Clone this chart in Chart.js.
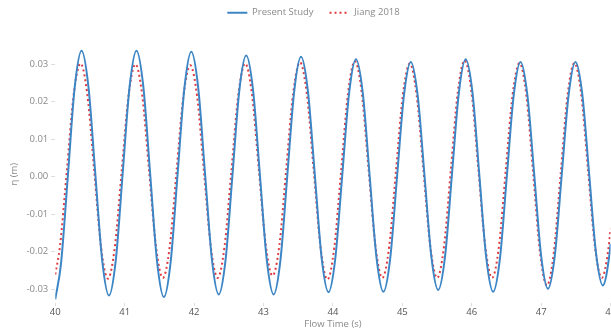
<!DOCTYPE html>
<html>
<head>
<meta charset="utf-8">
<script src="https://cdn.jsdelivr.net/npm/chart.js@4"></script>
<style>
  html, body { margin: 0; padding: 0; background: #fff; overflow: hidden; }
  #wrap { width: 618px; height: 329px; }
</style>
</head>
<body>
<div id="wrap"><canvas id="waveChart"></canvas></div>
<script>
// Free surface elevation
const seriesNames = ['Present Study', 'Jiang 2018'];

const presentTime = [
  40.000, 40.083, 40.182, 40.280, 40.379,
  40.478, 40.576, 40.675, 40.774,
  40.873, 40.972, 41.071, 41.170,
  41.269, 41.367, 41.466, 41.565,
  41.664, 41.762, 41.861, 41.960,
  42.059, 42.157, 42.256, 42.355,
  42.454, 42.553, 42.652, 42.751,
  42.850, 42.948, 43.047, 43.146,
  43.245, 43.343, 43.442, 43.541,
  43.640, 43.739, 43.837, 43.936,
  44.035, 44.134, 44.233, 44.332,
  44.431, 44.529, 44.628, 44.727,
  44.826, 44.924, 45.023, 45.122,
  45.221, 45.320, 45.418, 45.517,
  45.616, 45.715, 45.814, 45.913,
  46.012, 46.110, 46.209, 46.308,
  46.407, 46.505, 46.604, 46.703,
  46.802, 46.901, 46.999, 47.098,
  47.197, 47.296, 47.395, 47.494,
  47.593, 47.691, 47.790, 47.889,
  47.988, 48.000
];
const presentEta = [
  -0.0327, -0.0232, 0.0003, 0.0238, 0.0336,
  0.0240, 0.0010, -0.0221, -0.0317,
  -0.0221, 0.0010, 0.0240, 0.0336,
  0.0240, 0.0008, -0.0225, -0.0321,
  -0.0225, 0.0006, 0.0237, 0.0333,
  0.0238, 0.0010, -0.0219, -0.0314,
  -0.0221, 0.0005, 0.0230, 0.0323,
  0.0230, 0.0005, -0.0221, -0.0314,
  -0.0221, 0.0003, 0.0227, 0.0320,
  0.0228, 0.0006, -0.0216, -0.0308,
  -0.0217, 0.0003, 0.0222, 0.0313,
  0.0222, 0.0003, -0.0216, -0.0307,
  -0.0217, 0.0000, 0.0216, 0.0306,
  0.0217, 0.0002, -0.0213, -0.0302,
  -0.0212, 0.0006, 0.0223, 0.0313,
  0.0222, 0.0003, -0.0216, -0.0307,
  -0.0217, 0.0000, 0.0216, 0.0306,
  0.0217, 0.0004, -0.0210, -0.0299,
  -0.0210, 0.0004, 0.0217, 0.0306,
  0.0219, 0.0008, -0.0203, -0.0290,
  -0.0202, -0.0179
];

const jiangTime = [
  40.000, 40.068, 40.167, 40.265, 40.364,
  40.463, 40.562, 40.660, 40.759,
  40.858, 40.957, 41.056, 41.155,
  41.254, 41.352, 41.451, 41.550,
  41.649, 41.747, 41.846, 41.945,
  42.044, 42.142, 42.241, 42.340,
  42.439, 42.538, 42.637, 42.736,
  42.835, 42.933, 43.032, 43.131,
  43.230, 43.328, 43.427, 43.526,
  43.625, 43.724, 43.822, 43.921,
  44.020, 44.119, 44.218, 44.317,
  44.416, 44.514, 44.613, 44.712,
  44.811, 44.909, 45.008, 45.107,
  45.206, 45.305, 45.403, 45.502,
  45.601, 45.700, 45.799, 45.898,
  45.997, 46.095, 46.194, 46.293,
  46.392, 46.490, 46.589, 46.688,
  46.787, 46.886, 46.984, 47.083,
  47.182, 47.281, 47.380, 47.479,
  47.578, 47.676, 47.775, 47.874,
  47.973, 48.000
];
const jiangEta = [
  -0.0261, -0.0186, 0.0016, 0.0218, 0.0302,
  0.0218, 0.0015, -0.0188, -0.0272,
  -0.0188, 0.0014, 0.0216, 0.0300,
  0.0216, 0.0015, -0.0186, -0.0270,
  -0.0187, 0.0014, 0.0214, 0.0297,
  0.0214, 0.0014, -0.0187, -0.0270,
  -0.0186, 0.0016, 0.0218, 0.0302,
  0.0219, 0.0019, -0.0181, -0.0264,
  -0.0181, 0.0021, 0.0222, 0.0305,
  0.0220, 0.0016, -0.0189, -0.0274,
  -0.0189, 0.0017, 0.0223, 0.0308,
  0.0223, 0.0019, -0.0185, -0.0270,
  -0.0186, 0.0016, 0.0218, 0.0302,
  0.0218, 0.0016, -0.0186, -0.0270,
  -0.0185, 0.0020, 0.0225, 0.0310,
  0.0225, 0.0020, -0.0185, -0.0270,
  -0.0186, 0.0017, 0.0219, 0.0303,
  0.0217, 0.0007, -0.0203, -0.0290,
  -0.0203, 0.0007, 0.0217, 0.0303,
  0.0219, 0.0017, -0.0186, -0.0270,
  -0.0187, -0.0139
];

const xTicks = [40, 41, 42, 43, 44, 45, 46, 47, 48];
const yTicks = [-0.03, -0.02, -0.01, 0.00, 0.01, 0.02, 0.03];

function toPoints(xs, ys) {
    return xs.map(function(x, i) { return { x: x, y: ys[i] }; });
}

// extra gap under the legend
const legendGap = {
    id: 'legendGap',
    beforeInit: function(chart) {
        const fit = chart.legend.fit;
        chart.legend.fit = function() {
            fit.bind(chart.legend)();
            this.height += 18;
        };
    }
};

const textColor = '#8a8a8a';
const ctx = document.getElementById('waveChart').getContext('2d');
const waveChart = new Chart(ctx, {
    type: 'line',
    data: {
        datasets: [{
            label: seriesNames[0],
            data: toPoints(presentTime, presentEta),
            borderColor: '#3d86c6',
            backgroundColor: '#3d86c6',
            borderWidth: 2,
            pointRadius: 0,
            cubicInterpolationMode: 'monotone'
        }, {
            label: seriesNames[1],
            data: toPoints(jiangTime, jiangEta),
            borderColor: '#e0393e',
            backgroundColor: '#e0393e',
            borderWidth: 2,
            borderDash: [2, 3],
            pointRadius: 0,
            cubicInterpolationMode: 'monotone'
        }]
    },
    options: {
        responsive: true,
        maintainAspectRatio: false,
        animation: false,
        layout: { padding: { top: -8, left: 9, right: 0, bottom: 0 } },
        plugins: {
            legend: {
                position: 'top',
                labels: {
                    usePointStyle: true,
                    pointStyle: 'line',
                    pointStyleWidth: 20,
                    boxHeight: 8,
                    padding: 16,
                    color: textColor,
                    font: { family: 'Open Sans', size: 9.5 },
                    generateLabels: function(chart) {
                        const items = Chart.defaults.plugins.legend.labels.generateLabels(chart);
                        items.forEach(function(item) {
                            item.lineDash = chart.data.datasets[item.datasetIndex].borderDash || [];
                        });
                        return items;
                    }
                }
            },
            tooltip: { enabled: false }
        },
        scales: {
            x: {
                type: 'linear',
                min: 40,
                max: 48,
                afterBuildTicks: function(axis) {
                    axis.ticks = xTicks.map(function(v) { return { value: v }; });
                },
                grid: { drawOnChartArea: false, drawTicks: true, tickLength: 3, color: '#dddddd' },
                border: { display: false },
                ticks: {
                    color: '#555',
                    maxRotation: 0,
                    padding: 2,
                    font: { family: 'Open Sans', size: 9.5, lineHeight: 1 }
                },
                title: {
                    display: true,
                    text: 'Flow Time (s)',
                    color: textColor,
                    padding: { top: 0, bottom: 0 },
                    font: { family: 'Open Sans', size: 9.5, lineHeight: 1 }
                }
            },
            y: {
                min: -0.0337,
                max: 0.035,
                afterBuildTicks: function(axis) {
                    axis.ticks = yTicks.map(function(v) { return { value: v }; });
                },
                grid: { drawOnChartArea: false, drawTicks: true, tickLength: 4, color: '#dddddd' },
                border: { display: false },
                ticks: {
                    color: textColor,
                    padding: 3,
                    font: { family: 'Open Sans', size: 9.5 },
                    callback: function(v) { return v.toFixed(2); }
                },
                title: {
                    display: true,
                    text: 'η (m)',
                    color: textColor,
                    padding: { top: 0, bottom: 3 },
                    font: { family: 'Open Sans', size: 9.5 }
                }
            }
        }
    },
    plugins: [legendGap]
});
</script>
</body>
</html>
